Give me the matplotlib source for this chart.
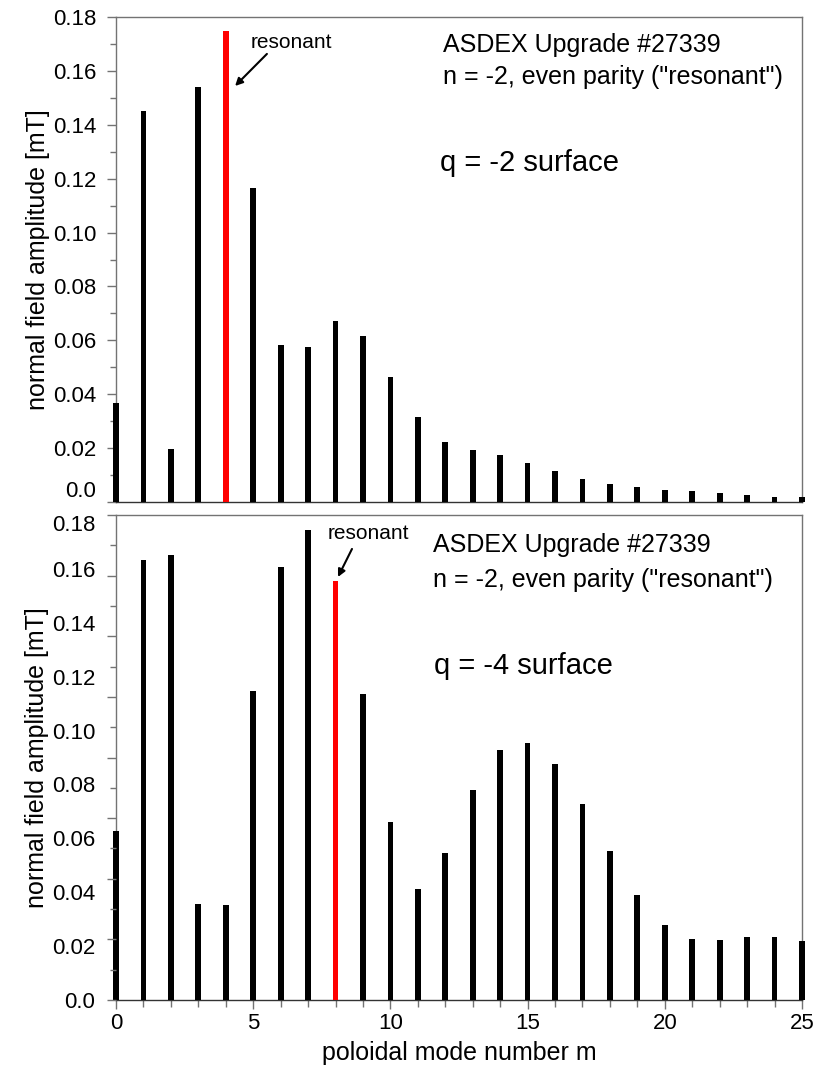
import numpy as np
import matplotlib.pyplot as plt
from matplotlib.ticker import MultipleLocator, FuncFormatter, NullLocator

plt.rcParams['font.family'] = ['Liberation Sans', 'DejaVu Sans']

# poloidal mode numbers
m = np.arange(0, 26)

# q = -2 surface (top panel), amplitudes in mT
amp_q2 = [0.0369, 0.1452, 0.0196, 0.1540, 0.1748, 0.1167, 0.0583, 0.0574, 0.0673,
          0.0616, 0.0465, 0.0314, 0.0224, 0.0193, 0.0175, 0.0146, 0.0115, 0.0087,
          0.0067, 0.0054, 0.0046, 0.0040, 0.0032, 0.0025, 0.0020, 0.0017]
res_q2 = 4

# q = -4 surface (bottom panel)
amp_q4 = [0.0628, 0.1633, 0.1650, 0.0358, 0.0353, 0.1145, 0.1606, 0.1743, 0.1556,
          0.1137, 0.0661, 0.0411, 0.0544, 0.0778, 0.0926, 0.0953, 0.0875, 0.0728,
          0.0553, 0.0391, 0.0278, 0.0227, 0.0224, 0.0232, 0.0234, 0.0218]
res_q4 = 8

w = 0.21
spine_col = '0.45'


def yfmt(v, pos):
    if abs(v) < 1e-9:
        return '0.0'
    return '%.2f' % v


def style_axis(ax):
    ax.set_xlim(0, 25)
    ax.set_ylim(0, 0.18)
    ax.yaxis.set_major_locator(MultipleLocator(0.02))
    ax.yaxis.set_minor_locator(MultipleLocator(0.01))
    ax.yaxis.set_major_formatter(FuncFormatter(yfmt))
    ax.xaxis.set_major_locator(MultipleLocator(5))
    ax.xaxis.set_minor_locator(MultipleLocator(1))
    ax.tick_params(axis='y', which='major', direction='out', length=6.3, width=1,
                   color=spine_col, labelsize=16, pad=7.8)
    ax.tick_params(axis='y', which='minor', direction='out', length=4.3, width=1,
                   color=spine_col)
    ax.tick_params(axis='x', which='major', direction='out', length=6.5, width=1,
                   color=spine_col, labelsize=16, pad=3)
    ax.tick_params(axis='x', which='minor', direction='out', length=5, width=1,
                   color=spine_col)
    for s in ax.spines.values():
        s.set_color(spine_col)
        s.set_linewidth(1)
    ax.spines['bottom'].set_color('0.2')
    ax.set_ylabel('normal field amplitude [mT]', fontsize=18, labelpad=2)


def draw_bars(ax, vals, res):
    cols = ['red' if i == res else 'black' for i in m]
    ax.bar(m, vals, width=w, color=cols, clip_on=False, zorder=3)


def resonant_note(ax, head, tail, txt_xy):
    ax.annotate('', xy=head, xytext=tail,
                arrowprops=dict(arrowstyle='-|>', color='black', lw=1.5,
                                shrinkA=0, shrinkB=0, mutation_scale=11))
    ax.text(txt_xy[0], txt_xy[1], 'resonant', fontsize=15, ha='center', va='center')


fig = plt.figure(figsize=(8.13, 10.65), dpi=100)
ax1 = fig.add_axes([116 / 813, 1 - 502 / 1065, 686 / 813, 485 / 1065])
ax2 = fig.add_axes([116 / 813, 1 - 1000 / 1065, 686 / 813, 485 / 1065])

### top panel: q = -2
draw_bars(ax1, amp_q2, res_q2)
style_axis(ax1)
ax1.tick_params(axis='x', which='both', bottom=False, labelbottom=False)
resonant_note(ax1, (4.34, 0.1544), (5.50, 0.1663), (6.40, 0.1707))
ax1.text(0.477, 0.942, 'ASDEX Upgrade #27339', transform=ax1.transAxes,
         fontsize=18, va='center', ha='left')
ax1.text(0.477, 0.876, 'n = -2, even parity ("resonant")', transform=ax1.transAxes,
         fontsize=18, va='center', ha='left')
ax1.text(0.472, 0.699, 'q = -2 surface', transform=ax1.transAxes,
         fontsize=21, va='center', ha='left')

### bottom panel: q = -4
draw_bars(ax2, amp_q4, res_q4)
style_axis(ax2)
# labels of this panel sit on the 0..0.18 scale, the tick marks on a 0..0.16 scale
ax2.yaxis.set_minor_locator(NullLocator())
ax2.tick_params(axis='y', which='major', length=0, pad=15)
ax2t = ax2.twinx()
ax2t.set_ylim(0, 0.16)
ax2t.yaxis.set_major_locator(MultipleLocator(0.02))
ax2t.yaxis.set_minor_locator(MultipleLocator(0.01))
ax2t.yaxis.set_ticks_position('left')
ax2t.tick_params(axis='y', which='major', direction='out', length=6.3, width=1,
                 color=spine_col, labelleft=False, labelright=False)
ax2t.tick_params(axis='y', which='minor', direction='out', length=4.3, width=1,
                 color=spine_col)
for s in ax2t.spines.values():
    s.set_visible(False)
ax2.set_xlabel('poloidal mode number m', fontsize=18, labelpad=5)
resonant_note(ax2, (8.09, 0.157), (8.60, 0.1674), (9.18, 0.1733))
ax2.text(0.462, 0.938, 'ASDEX Upgrade #27339', transform=ax2.transAxes,
         fontsize=18, va='center', ha='left')
ax2.text(0.462, 0.866, 'n = -2, even parity ("resonant")', transform=ax2.transAxes,
         fontsize=18, va='center', ha='left')
ax2.text(0.4636, 0.689, 'q = -4 surface', transform=ax2.transAxes,
         fontsize=21, va='center', ha='left')

# nudge the two labels at the panel junction apart
fig.canvas.draw()
for t in ax1.yaxis.get_major_ticks():
    if abs(t.get_loc()) < 1e-6:
        t.label1.set_va('bottom')
for t in ax2.yaxis.get_major_ticks():
    if abs(t.get_loc() - 0.18) < 1e-6:
        t.label1.set_va('top')

plt.savefig('out.png', dpi=100)
